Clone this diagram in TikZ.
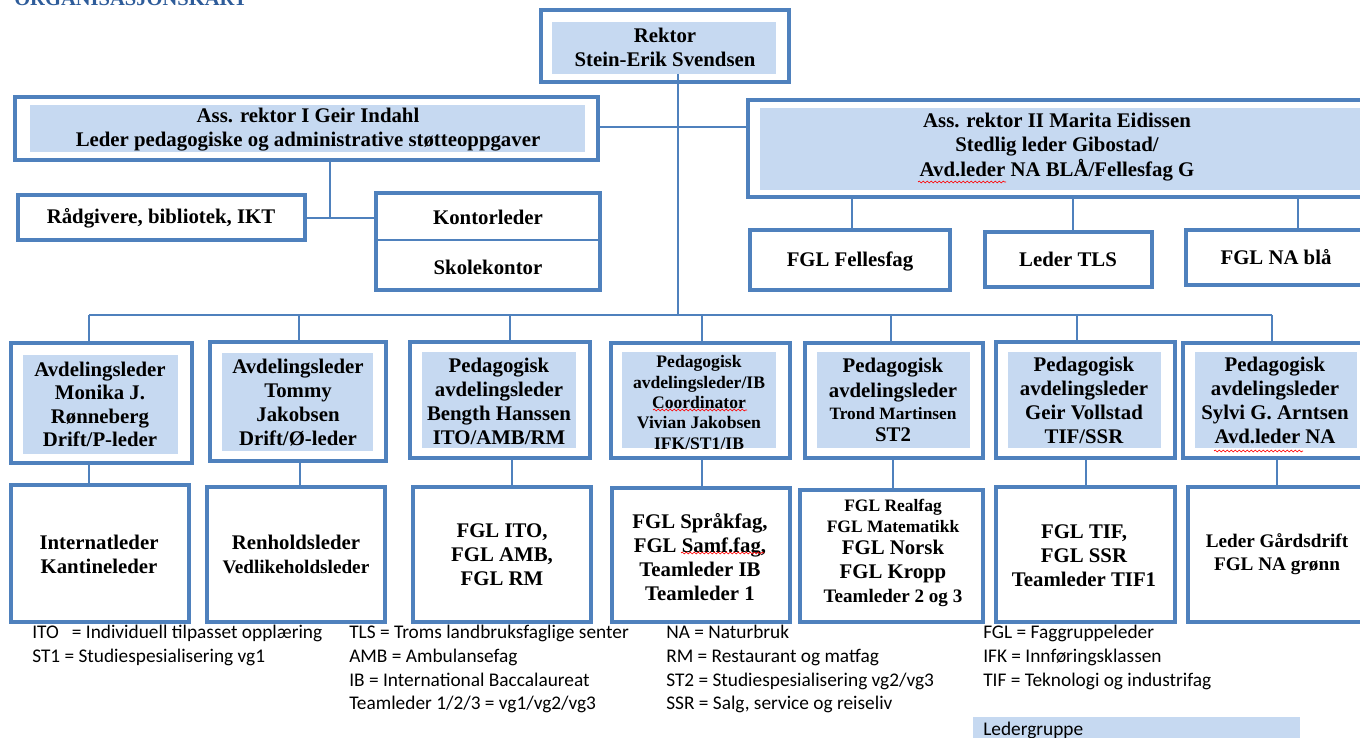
\documentclass[tikz,border=0pt]{standalone}
\usepackage{fontspec}
\setmainfont{Liberation Serif}
\newfontfamily\legendfont{Carlito}
\usetikzlibrary{fit,decorations.pathmorphing}
\definecolor{bord}{HTML}{4F81BD}
\definecolor{fillb}{HTML}{C6D9F1}
\definecolor{titleb}{HTML}{2E5C9A}
\newcommand\fsz[2]{\fontsize{#1}{#2}\selectfont}
\tikzset{
  outerbox/.style={draw=bord, line width=3pt, fill=white, inner sep=0pt},
  innerbox/.style={fill=fillb, inner sep=0pt},
  conn/.style={draw=bord, line width=1.1pt},
  divline/.style={draw=bord, line width=1.1pt},
  lbl/.style={font=\bfseries\fsz{15.6pt}{18pt}, align=center, inner sep=0pt, text=black},
  lblsmall/.style={font=\bfseries\fsz{13.2pt}{15.2pt}, align=center, inner sep=0pt, text=black},
  legend/.style={font=\legendfont\fsz{14.5pt}{18pt}, anchor=base west, inner sep=0pt, text=black},
  titlestyle/.style={font=\bfseries\fsz{15.4pt}{18pt}, text=titleb, anchor=base west, inner sep=0pt},
  spell/.style={draw=red, line width=0.5pt, decorate, decoration={snake, amplitude=0.7pt, segment length=3pt}}
}
\begin{document}
\begin{tikzpicture}[x=0.75pt,y=-0.75pt]
\clip (0,0) rectangle (1360,738);
\fill[white] (0,0) rectangle (1360,738);

% title (cut off at top, as in the reference)
\node[titlestyle] (title) at (14,6) {ORGANISASJONSKART};

% ---------- top level ----------
\node[outerbox, fit={(541,10) (789,82)}] (rektor) {};
\node[innerbox, fit={(552,22) (776,74)}] (rektorfill) {};
\node[lbl] (rektortxt) at (665,47) {Rektor\\Stein-Erik Svendsen};

\node[outerbox, fit={(15,97) (598,160)}] (assI) {};
\node[innerbox, fit={(30,105) (585,152)}] (assIfill) {};
\node[lbl] (assItxt) at (308,130) {Ass. rektor I Geir Indahl\\Leder pedagogiske og administrative støtteoppgaver};

\node[outerbox, fit={(748,100) (1374,197)}] (assII) {};
\node[innerbox, fit={(760,108) (1362,190)}] (assIIfill) {};
\node[lbl, font=\bfseries\fsz{15.6pt}{18.4pt}] (assIItxt) at (1057,147) {Ass. rektor II Marita Eidissen\\Stedlig leder Gibostad/\\Avd.leder NA BLÅ/Fellesfag G};

\node[outerbox, fit={(18,195) (305,240)}] (radg) {};
\node[lbl] (radgtxt) at (161,218) {Rådgivere, bibliotek, IKT};

\node[outerbox, fit={(376,193) (600,290)}] (kontor) {};
\node[lbl] (kontortxt) at (488,217) {Kontorleder};
\node[lbl] (skoletxt) at (488,267) {Skolekontor};
\coordinate (kdiv) at (0,240);
\draw[divline] (kontor.west |- kdiv) -- (kontor.east |- kdiv);

\node[outerbox, fit={(750,230) (950,290)}] (fellesfag) {};
\node[lbl] (fellesfagtxt) at (850,261) {FGL Fellesfag};
\node[outerbox, fit={(985,232) (1152,287)}] (tls) {};
\node[lbl] (tlstxt) at (1068,259) {Leder TLS};
\node[outerbox, fit={(1186,230) (1368,285)}] (nabla) {};
\node[lbl] (nablatxt) at (1276,257) {FGL NA blå};

% ---------- top-level connectors ----------
\coordinate (rj) at (678,127);
\coordinate (bus) at (678,315);
\draw[conn] (rj |- rektorfill.south) -- (bus);
\draw[conn] (assI.east |- rj) -- (assII.west |- rj);

\coordinate (aj) at (330,218);
\draw[conn] (aj |- assI.south) -- (aj);
\draw[conn] (radg.east |- aj) -- (kontor.west |- aj);

\coordinate (f1) at (852,0);
\coordinate (f2) at (1073,0);
\coordinate (f3) at (1298,0);
\draw[conn] (f1 |- assII.south) -- (f1 |- fellesfag.north);
\draw[conn] (f2 |- assII.south) -- (f2 |- tls.north);
\draw[conn] (f3 |- assII.south) -- (f3 |- nabla.north);

% ---------- department heads ----------
\node[outerbox, fit={(11,343) (192,463)}] (c1) {};
\node[innerbox, fit={(23,355) (178,454)}] (c1fill) {};
\node[lbl, font=\bfseries\fsz{15.6pt}{17.6pt}] (c1txt) at (100,404.5) {Avdelingsleder\\Monika J.\\Rønneberg\\Drift/P-leder};

\node[outerbox, fit={(210,342) (386,461)}] (c2) {};
\node[innerbox, fit={(222,353) (373,451)}] (c2fill) {};
\node[lbl] (c2txt) at (298,402.5) {Avdelingsleder\\Tommy\\Jakobsen\\Drift/Ø-leder};

\node[outerbox, fit={(410,342) (590,458)}] (c3) {};
\node[innerbox, fit={(422,352) (576,448)}] (c3fill) {};
\node[lbl] (c3txt) at (499,401) {Pedagogisk\\avdelingsleder\\Bength Hanssen\\ITO/AMB/RM};

\node[outerbox, fit={(611,343) (790,458)}] (c4) {};
\node[innerbox, fit={(622,352) (776,448)}] (c4fill) {};
\node[lblsmall] (c4txt) at (699,402.5) {Pedagogisk\\avdelingsleder/IB\\Coordinator\\Vivian Jakobsen\\IFK/ST1/IB};

\node[outerbox, fit={(805,343) (983,458)}] (c5) {};
\node[innerbox, fit={(817,352) (970,448)}] (c5fill) {};
\node[lbl, font=\bfseries\fsz{15.6pt}{16.5pt}] (c5txt) at (893,399.5) {Pedagogisk\\[2.2pt]avdelingsleder\\{\fsz{13pt}{16.5pt}Trond Martinsen}\\ST2};

\node[outerbox, fit={(996,342) (1175,458)}] (c6) {};
\node[innerbox, fit={(1008,352) (1161,448)}] (c6fill) {};
\node[lbl] (c6txt) at (1084,400) {Pedagogisk\\avdelingsleder\\Geir Vollstad\\TIF/SSR};

\node[outerbox, fit={(1183,343) (1370,458)}] (c7) {};
\node[innerbox, fit={(1195,352) (1357,448)}] (c7fill) {};
\node[lbl] (c7txt) at (1275,400) {Pedagogisk\\avdelingsleder\\Sylvi G. Arntsen\\Avd.leder NA};

% ---------- sub units ----------
\node[outerbox, fit={(11,485) (189,622)}] (b1) {};
\node[lbl] (b1txt) at (99,554) {Internatleder\\Kantineleder};

\node[outerbox, fit={(207,487) (385,622)}] (b2) {};
\node[lbl] (b2txt) at (296,554.5) {Renholdsleder\\{\fsz{14.4pt}{18pt}Vedlikeholdsleder}};

\node[outerbox, fit={(413,487) (591,622)}] (b3) {};
\node[lbl] (b3txt) at (502,555) {FGL ITO,\\FGL AMB,\\FGL RM};

\node[outerbox, fit={(612,488) (790,622)}] (b4) {};
\node[lbl] (b4txt) at (700,557) {FGL Språkfag,\\FGL Samf.fag,\\Teamleder IB\\Teamleder 1};

\node[outerbox, fit={(800,490) (983,622)}] (b5) {};
\node[lbl] (b5txt) at (893,553) {{\fsz{13.1pt}{18pt}FGL Realfag}\\[-2.2pt]{\fsz{13.1pt}{18pt}FGL Matematikk}\\[-1.5pt]FGL Norsk\\FGL Kropp\\{\fsz{14.3pt}{18pt}Teamleder 2 og 3}};

\node[outerbox, fit={(996,487) (1175,622)}] (b6) {};
\node[lbl] (b6txt) at (1084,556) {FGL TIF,\\FGL SSR\\Teamleder TIF1};

\node[outerbox, fit={(1188,487) (1370,622)}] (b7) {};
\node[lbl, font=\bfseries\fsz{14.4pt}{17.3pt}] (b7txt) at (1277,554.5) {Leder Gårdsdrift\\FGL NA grønn};

% ---------- bus and drops ----------
\coordinate (d1) at (89,315);
\coordinate (d2) at (299,315);
\coordinate (d3) at (510,315);
\coordinate (d4) at (702,315);
\coordinate (d5) at (891,315);
\coordinate (d6) at (1077,315);
\coordinate (d7) at (1272,315);
\draw[conn] (d1) -- (d7);
\foreach \i in {1,...,7} {\draw[conn] (d\i) -- (d\i |- c\i.north);}

\coordinate (e1) at (89,0);
\coordinate (e2) at (300,0);
\coordinate (e3) at (512,0);
\coordinate (e4) at (702,0);
\coordinate (e5) at (893,0);
\coordinate (e6) at (1086,0);
\coordinate (e7) at (1277,0);
\foreach \i in {1,...,7} {\draw[conn] (e\i |- c\i.south) -- (e\i |- b\i.north);}

% ---------- spell-check marks ----------
\draw[spell] (918,182) -- (1006,182);
\draw[spell] (653,410) -- (747,410);
\draw[spell] (681,553) -- (764,553);
\draw[spell] (1214,451) -- (1303,451);

% ---------- legend ----------
\node[legend] (l11) at (32,638) {ITO\ \ \ = Individuell tilpasset opplæring};
\node[legend] (l12) at (32,662) {ST1 = Studiespesialisering vg1};
\node[legend] (l21) at (349,638) {TLS = Troms landbruksfaglige senter};
\node[legend] (l22) at (349,662) {AMB = Ambulansefag};
\node[legend] (l23) at (349,686) {IB = International Baccalaureat};
\node[legend] (l24) at (349,709) {Teamleder 1/2/3 = vg1/vg2/vg3};
\node[legend] (l31) at (666,638) {NA = Naturbruk};
\node[legend] (l32) at (666,662) {RM = Restaurant og matfag};
\node[legend] (l33) at (666,686) {ST2 = Studiespesialisering vg2/vg3};
\node[legend] (l34) at (666,709) {SSR = Salg, service og reiseliv};
\node[legend] (l41) at (983,638) {FGL = Faggruppeleder};
\node[legend] (l42) at (983,662) {IFK = Innføringsklassen};
\node[legend] (l43) at (983,686) {TIF = Teknologi og industrifag};

\node[innerbox, fit={(973,717) (1300,745)}] (lgbox) {};
\node[legend] (lgtxt) at (983,735) {Ledergruppe};
\end{tikzpicture}
\end{document}
